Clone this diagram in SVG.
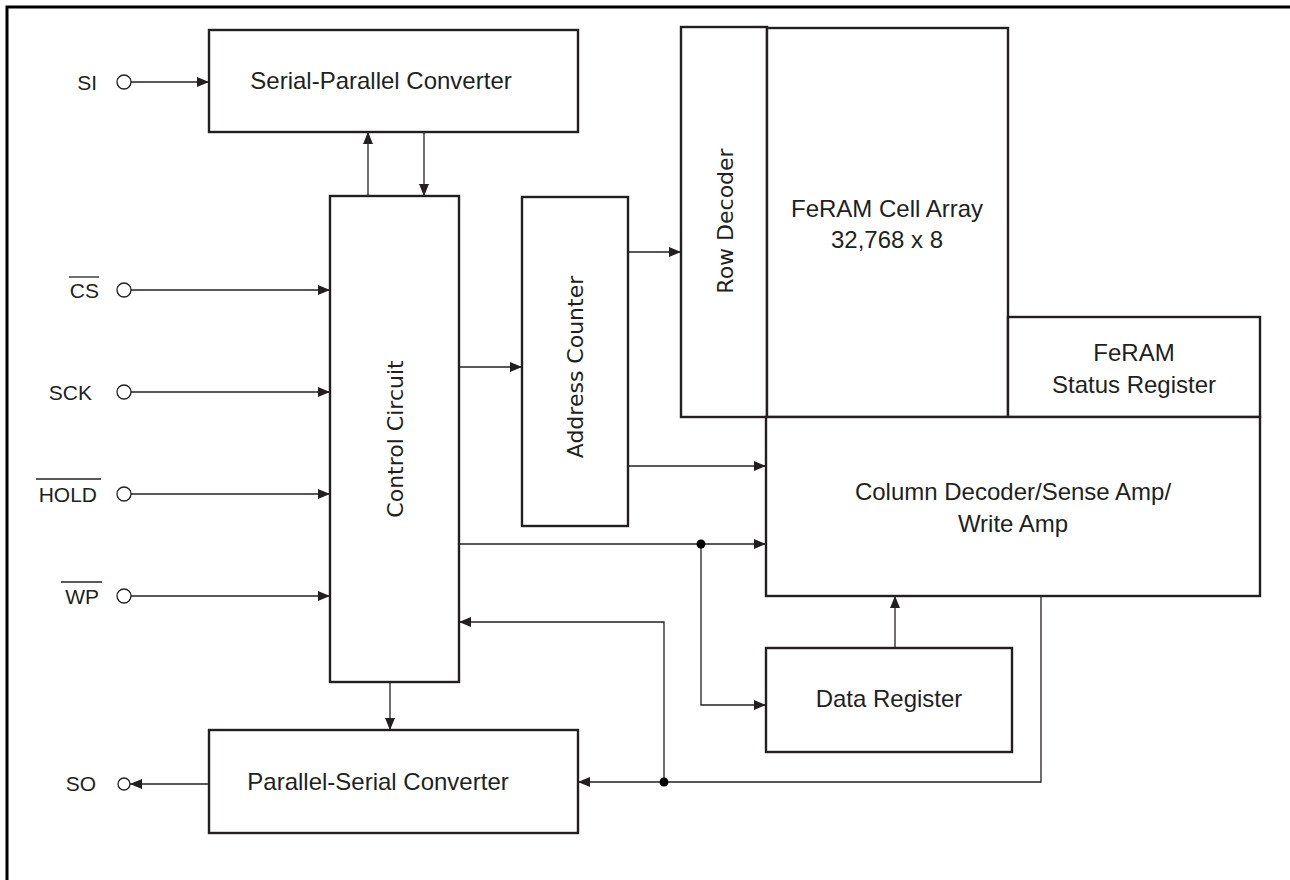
<svg xmlns="http://www.w3.org/2000/svg" width="1290" height="880" viewBox="0 0 1290 880">
<style>
.box{fill:#fff;stroke:#231f20;stroke-width:2.4}
.c{fill:none;stroke:#231f20;stroke-width:1.3}
.pin{fill:#fff;stroke:#231f20;stroke-width:1.3}
.t{font-family:"Liberation Sans",Arial,sans-serif;font-size:24px;fill:#231f20;text-anchor:middle}
.r{font-family:"DejaVu Sans",Verdana,sans-serif;font-size:22px;fill:#231f20;text-anchor:middle}
.p{font-family:"Liberation Sans",Arial,sans-serif;font-size:21px;fill:#231f20;text-anchor:end}
.ov{stroke:#231f20;stroke-width:1.3}
.dot{fill:#000}
</style>
<defs>
<marker id="ah" markerUnits="userSpaceOnUse" markerWidth="12" markerHeight="10" refX="12" refY="5" orient="auto">
<path d="M0,0 L12,5 L0,10 z" fill="#231f20"/>
</marker>
</defs>
<rect width="1290" height="880" fill="#fff"/>
<path d="M7,880 V7 H1290" fill="none" stroke="#000" stroke-width="3"/>

<g id="serial-parallel"><rect class="box" x="209" y="30" width="369" height="102"/><text class="t" x="381" y="89">Serial-Parallel Converter</text></g>
<g id="control-circuit"><rect class="box" x="330" y="196" width="129" height="486"/><text class="r" transform="translate(403,439) rotate(-90)">Control Circuit</text></g>
<g id="address-counter"><rect class="box" x="522" y="197" width="106" height="329"/><text class="r" transform="translate(583,367) rotate(-90)">Address Counter</text></g>
<g id="row-decoder"><rect class="box" x="681" y="27" width="86" height="390"/><text class="r" transform="translate(733,221) rotate(-90)">Row Decoder</text></g>
<g id="cell-array"><rect class="box" x="767" y="28" width="241" height="389"/><text class="t" x="887" y="217">FeRAM Cell Array</text><text class="t" x="887" y="248">32,768 x 8</text></g>
<g id="status-register"><rect class="box" x="1008" y="317" width="252" height="100"/><text class="t" x="1134" y="361">FeRAM</text><text class="t" x="1134" y="393">Status Register</text></g>
<g id="column-decoder"><rect class="box" x="766" y="417" width="494" height="179"/><text class="t" x="1013" y="500">Column Decoder/Sense Amp/</text><text class="t" x="1013" y="532">Write Amp</text></g>
<g id="data-register"><rect class="box" x="766" y="648" width="246" height="104"/><text class="t" x="889" y="707">Data Register</text></g>
<g id="parallel-serial"><rect class="box" x="209" y="730" width="369" height="103"/><text class="t" x="378" y="790">Parallel-Serial Converter</text></g>

<g id="pin-si"><text class="p" x="97" y="90">SI</text><circle class="pin" cx="124" cy="82" r="7"/></g>
<g id="pin-cs"><text class="p" x="99" y="298">CS</text><line class="ov" x1="69" y1="277" x2="99" y2="277"/><circle class="pin" cx="124" cy="290" r="7"/></g>
<g id="pin-sck"><text class="p" x="92" y="400">SCK</text><circle class="pin" cx="124" cy="392" r="7"/></g>
<g id="pin-hold"><text class="p" x="97" y="502">HOLD</text><line class="ov" x1="36" y1="479" x2="101" y2="479"/><circle class="pin" cx="124" cy="494" r="7"/></g>
<g id="pin-wp"><text class="p" x="99" y="604">WP</text><line class="ov" x1="61" y1="582" x2="102" y2="582"/><circle class="pin" cx="124" cy="596" r="7"/></g>
<g id="pin-so"><text class="p" x="96" y="791">SO</text><circle class="pin" cx="124" cy="784" r="6"/></g>

<g id="connectors">
<line class="c" x1="131" y1="82" x2="209" y2="82" marker-end="url(#ah)"/>
<line class="c" x1="131" y1="290" x2="330" y2="290" marker-end="url(#ah)"/>
<line class="c" x1="131" y1="392" x2="330" y2="392" marker-end="url(#ah)"/>
<line class="c" x1="131" y1="494" x2="330" y2="494" marker-end="url(#ah)"/>
<line class="c" x1="131" y1="596" x2="330" y2="596" marker-end="url(#ah)"/>
<line class="c" x1="368" y1="196" x2="368" y2="132" marker-end="url(#ah)"/>
<line class="c" x1="424" y1="132" x2="424" y2="196" marker-end="url(#ah)"/>
<line class="c" x1="459" y1="367" x2="522" y2="367" marker-end="url(#ah)"/>
<line class="c" x1="628" y1="252" x2="681" y2="252" marker-end="url(#ah)"/>
<line class="c" x1="628" y1="466" x2="766" y2="466" marker-end="url(#ah)"/>
<line class="c" x1="459" y1="544" x2="766" y2="544" marker-end="url(#ah)"/>
<polyline class="c" points="701,544 701,705 766,705" marker-end="url(#ah)"/>
<line class="c" x1="895" y1="648" x2="895" y2="596" marker-end="url(#ah)"/>
<polyline class="c" points="1041,596 1041,782 578,782" marker-end="url(#ah)"/>
<polyline class="c" points="664,782 664,622 459,622" marker-end="url(#ah)"/>
<line class="c" x1="390" y1="682" x2="390" y2="730" marker-end="url(#ah)"/>
<line class="c" x1="209" y1="784" x2="130" y2="784" marker-end="url(#ah)"/>
<circle class="dot" cx="701" cy="544" r="4.5"/>
<circle class="dot" cx="664" cy="782" r="4.5"/>
</g>
</svg>
